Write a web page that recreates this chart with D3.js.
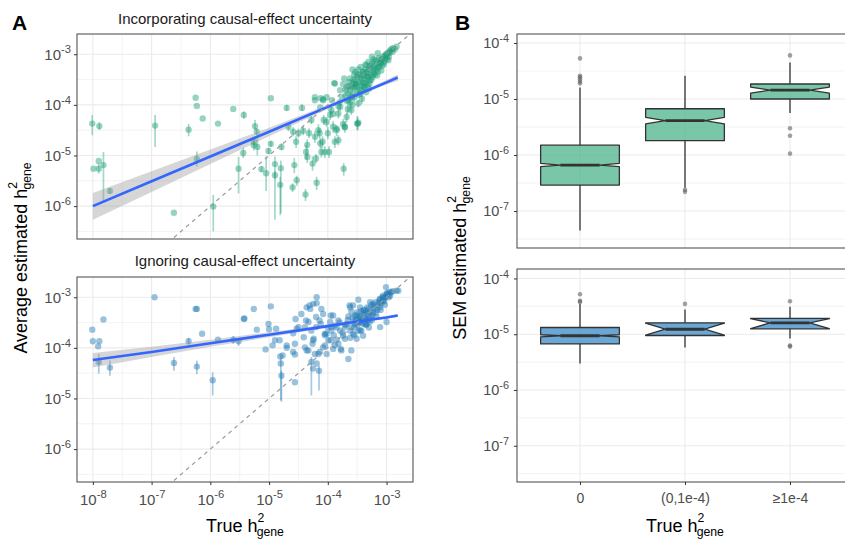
<!DOCTYPE html>
<html>
<head>
<meta charset="utf-8">
<script src="https://cdn.jsdelivr.net/npm/d3@7"></script>
<style>
body { margin: 0; background: #fff; }
svg { font-family: "Liberation Sans", Arial, sans-serif; }
</style>
</head>
<body>
<svg id="chart" width="845" height="542"></svg>
<script>
// ---- data (log10 exponents) ----
var xTicksLeft = [-8, -7, -6, -5, -4, -3];
var xMinorLeft = [-7.5, -6.5, -5.5, -4.5, -3.5];
var yTicksLeft = [-6, -5, -4, -3];
var yMinorLeft = [-6.5, -5.5, -4.5, -3.5];
var yTicksRight = [-7, -6, -5, -4];
var yMinorRight = [-7.5, -6.5, -5.5, -4.5];
var categories = ["0", "(0,1e-4)", "\u22651e-4"];

// [true, estimated, errLow, errHigh]
var topPoints = [
  [-8.01,-4.37,-4.60,-4.20],[-7.89,-4.42,-4.50,-4.34],[-7.99,-5.26],[-7.90,-5.26,-5.36,-5.16],
  [-7.90,-5.11],[-7.82,-5.19,-5.90,-4.93],[-7.71,-5.70,-5.76,-5.64],[-6.94,-4.41,-4.83,-4.20],
  [-6.62,-6.13],[-6.37,-4.49,-4.62,-4.38],[-6.25,-3.86],[-6.23,-4.02],[-6.13,-4.27],
  [-6.23,-5.07,-5.22,-4.92],[-5.95,-6.01,-6.50,-5.78],[-5.87,-4.37],[-5.61,-4.08],
  [-5.43,-4.20,-4.27,-4.13],[-5.52,-5.26,-5.75,-5.03],[-5.44,-4.95,-5.05,-4.85],
  [-5.26,-4.80,-4.90,-4.70],[-5.24,-4.42,-4.50,-4.30],[-5.21,-4.53,-4.60,-4.46],[-4.97,-3.87],
  [-5.26,-4.73,-4.80,-4.66],[-5.20,-4.83,-5.00,-4.66],[-5.13,-5.27,-5.33,-5.21],
  [-5.05,-5.35,-5.70,-5.02],[-5.01,-4.91,-4.97,-4.85],[-4.97,-4.77,-4.83,-4.71],
  [-4.90,-5.17,-6.27,-5.02],[-4.90,-5.39,-5.47,-5.31],[-4.81,-5.58,-6.18,-5.42],
  [-4.80,-5.25,-6.14,-5.10],[-4.79,-4.83,-4.90,-4.76],[-4.70,-4.06,-4.12,-4.00],
  [-4.60,-5.63,-5.72,-5.55],[-4.57,-5.19,-5.35,-5.05],[-4.54,-4.73,-4.85,-4.62],
  [-4.53,-5.49,-5.60,-5.40],[-4.50,-4.56,-4.65,-4.47],[-4.44,-4.06,-4.12,-3.99],
  [-4.38,-5.77,-5.90,-5.66],[-4.37,-4.93,-5.08,-4.80],[-4.35,-4.79,-4.90,-4.68],
  [-4.32,-4.56,-4.66,-4.46],[-4.28,-4.30,-4.38,-4.22],[-4.26,-5.16,-5.30,-5.02],
  [-4.22,-4.63,-4.75,-4.52],[-4.20,-5.06,-5.15,-4.97],[-4.19,-5.54,-5.68,-5.42],
  [-4.16,-4.50,-4.62,-4.38],[-4.14,-4.56,-4.66,-4.46],[-4.09,-4.73,-4.85,-4.62],
  [-4.07,-4.30,-4.40,-4.20],[-4.05,-4.93,-5.05,-4.82],[-4.00,-4.56,-4.68,-4.44],
  [-3.98,-4.93,-5.05,-4.82],[-3.96,-4.20,-4.30,-4.10],[-3.94,-4.10,-4.18,-4.02],
  [-3.91,-4.43,-4.55,-4.32],[-3.88,-4.73,-4.85,-4.62],[-3.85,-4.50,-4.62,-4.40],
  [-3.82,-4.17,-4.27,-4.07],[-3.79,-4.04,-4.12,-3.96],[-3.73,-5.26,-5.40,-5.15],
  [-3.71,-4.43,-4.55,-4.32],[-3.68,-4.24,-4.35,-4.13],[-3.60,-4.10,-4.20,-4.00],
  [-3.50,-4.37,-4.50,-4.22],[-3.48,-3.97,-4.05,-3.90],
  [-4.67,-4.43,-4.52,-4.34],[-4.59,-4.53,-4.62,-4.44],[-4.42,-4.51,-4.60,-4.42],
  [-4.35,-5.03,-5.15,-4.92],[-4.13,-4.76,-4.86,-4.66],[-4.11,-4.93,-5.04,-4.82],
  [-4.02,-4.34,-4.44,-4.24],[-3.85,-4.47],[-3.82,-4.70,-4.80,-4.60],[-3.71,-4.44],
  [-4.22,-3.91],[-4.12,-3.87],[-4.08,-3.91],[-3.93,-3.91],[-3.89,-3.57],[-3.79,-3.71],
  [-3.68,-3.65],[-3.65,-3.91],[-3.60,-3.84],[-3.54,-3.59],
  [-4.22,-3.85],[-4.13,-4.05],[-4.08,-3.89],[-4.02,-3.85],[-3.91,-4.18],[-3.88,-3.58],
  [-3.82,-4.02],[-3.74,-3.59],[-3.74,-4.38,-4.48,-4.28],[-3.68,-3.92],[-3.62,-3.72],
  [-3.60,-3.85],[-3.57,-3.56],[-3.54,-3.66],[-3.48,-4.35],[-3.45,-3.46],[-3.40,-3.56],
  [-3.34,-3.43],[-3.28,-3.23],[-3.23,-3.26],[-3.09,-3.16],[-3.03,-3.03],[-2.94,-2.93],
  [-2.83,-2.85],
  [-3.70,-3.70],[-3.66,-3.78],[-3.64,-3.55],[-3.58,-3.62],[-3.56,-3.50],[-3.52,-3.58],
  [-3.50,-3.45],[-3.50,-3.70],[-3.47,-3.55],[-3.44,-3.40],[-3.42,-3.62],[-3.40,-3.35],
  [-3.38,-3.48],[-3.36,-3.30],[-3.35,-3.58],[-3.33,-3.38],[-3.31,-3.50],[-3.30,-3.28],
  [-3.27,-3.40],[-3.25,-3.18],[-3.22,-3.35],[-3.20,-3.22],[-3.18,-3.12],[-3.17,-3.30],
  [-3.15,-3.20],[-3.13,-3.08],[-3.12,-3.25],[-3.10,-3.12],[-3.07,-3.22],[-3.06,-3.05],
  [-3.04,-3.15],[-3.01,-3.00],[-3.00,-3.10],[-2.98,-2.97],[-2.96,-3.05],[-2.92,-2.90],
  [-2.89,-2.88],[-3.45,-3.72],[-3.38,-3.65],[-3.32,-3.62],[-3.28,-3.52],[-3.24,-3.45],
  [-3.55,-3.85,-3.95,-3.76],[-3.62,-3.95,-4.05,-3.86],[-3.48,-3.80],[-3.42,-3.88,-3.98,-3.79],
  [-3.35,-3.75],[-3.30,-3.68],[-3.66,-4.08,-4.18,-3.98],[-3.58,-4.00],[-3.20,-3.40],
  [-3.15,-3.35],[-3.55,-3.40],[-3.48,-3.30],[-3.36,-3.20],[-3.25,-3.05],[-3.15,-2.98],
  [-3.49,-4.37,-4.50,-4.25],[-3.45,-3.78],[-3.40,-3.35],[-3.38,-3.65],[-3.34,-3.22],
  [-3.62,-3.48],[-3.60,-3.66],[-3.57,-3.78],[-3.53,-3.52],[-3.51,-3.64],[-3.49,-3.40],
  [-3.46,-3.60],[-3.43,-3.50],[-3.41,-3.70],[-3.39,-3.42],[-3.37,-3.56],[-3.34,-3.35],
  [-3.32,-3.45],[-3.29,-3.58],[-3.27,-3.30],[-3.26,-3.50],[-3.23,-3.40],[-3.21,-3.15],
  [-3.19,-3.30],[-3.16,-3.42],[-3.14,-3.25],[-3.11,-3.18],[-3.09,-3.32],[-3.08,-3.10],
  [-3.05,-3.20],[-3.02,-3.08],[-2.99,-3.02],[-2.97,-3.12],[-2.95,-2.97],[-2.90,-2.95],
  [-2.86,-2.90],[-3.31,-3.15],[-3.22,-3.10],[-3.44,-3.25],[-3.53,-3.35],[-3.64,-3.62],
  [-3.70,-3.82],[-3.76,-3.85],[-3.80,-3.95],[-3.72,-3.48],[-3.58,-3.30]
];

var bottomPoints = [
  [-8.01,-3.64],[-8.00,-3.87],[-7.89,-3.87],[-7.91,-3.97],[-7.82,-3.44],
  [-7.90,-4.28,-4.51,-4.12],[-7.71,-4.39,-4.55,-4.25],[-6.95,-3.00],[-6.62,-4.30,-4.45,-4.18],
  [-6.37,-3.87,-3.93,-3.80],[-6.25,-3.23],[-6.23,-3.23],[-6.14,-3.72],[-6.23,-4.37,-4.52,-4.25],
  [-5.96,-4.64,-4.94,-4.48],[-5.87,-3.84],[-5.61,-3.84,-3.92,-3.77],[-5.52,-3.87,-3.96,-3.80],
  [-5.43,-3.43],[-5.42,-3.42],[-5.26,-3.23],[-5.21,-3.64],[-5.01,-3.53],[-4.97,-3.18],
  [-5.00,-3.63],[-5.06,-4.03],[-4.94,-3.95],[-4.88,-3.62],[-4.90,-3.85],[-4.82,-3.85],
  [-4.81,-4.17],[-4.80,-4.31,-5.04,-4.20],[-4.79,-4.55,-5.06,-4.45],[-4.77,-4.15],
  [-4.70,-3.95],[-4.70,-4.00],[-4.59,-4.08],[-4.56,-4.68],[-4.56,-4.13],[-4.56,-3.92],
  [-4.59,-3.71],[-4.55,-3.43],[-4.53,-3.62],[-4.50,-3.59],[-4.45,-3.33],[-4.41,-3.79],
  [-4.39,-3.99],[-4.39,-3.59],[-4.37,-3.46],[-4.36,-3.20],[-4.36,-4.05],[-4.33,-3.49],
  [-4.33,-4.05],[-4.31,-3.16],[-4.30,-3.23],[-4.28,-4.28,-4.94,-4.18],[-4.28,-3.66],
  [-4.26,-3.92],[-4.25,-3.13],[-4.25,-3.85],[-4.25,-4.41],[-4.24,-3.82],[-4.22,-4.12],
  [-4.20,-3.59],[-4.20,-3.39],[-4.19,-3.00],[-4.19,-3.12],[-4.19,-4.31],[-4.16,-4.12],
  [-4.15,-4.45,-4.84,-4.35],[-4.14,-3.46],[-4.14,-4.08],[-4.12,-3.53],[-4.11,-3.23],
  [-4.08,-3.99],[-4.08,-3.33],[-4.05,-3.72],[-4.05,-3.95],[-4.02,-4.12],[-4.02,-3.72],
  [-3.99,-3.85],[-3.96,-3.49],[-3.95,-3.36],[-3.94,-3.66],[-3.94,-3.59],[-3.91,-4.02],
  [-3.91,-3.36],[-3.88,-3.56],[-3.88,-3.95],[-3.85,-3.84],[-3.82,-3.46],[-3.82,-3.92],
  [-3.79,-3.66],[-3.78,-4.02],[-3.77,-4.05],[-3.74,-3.76],[-3.71,-3.59],[-3.71,-3.82],
  [-3.68,-3.53],[-3.65,-4.22],[-3.63,-3.16],[-3.62,-3.20],[-3.62,-3.66],[-3.60,-3.59],
  [-3.60,-4.05],[-3.57,-3.72],[-3.57,-3.16],[-3.54,-3.36],[-3.54,-3.53],[-3.51,-3.82],
  [-3.51,-3.36],[-3.48,-3.05],[-3.48,-3.66],[-3.45,-3.49],[-3.45,-3.20],[-3.43,-3.66],
  [-3.43,-3.39],[-3.40,-3.26],[-3.40,-3.76],[-3.37,-3.43],[-3.37,-3.53],[-3.34,-3.53],
  [-3.34,-3.33],[-3.31,-3.23],[-3.29,-3.49],[-3.23,-3.13],[-3.23,-3.30],[-3.17,-3.39],
  [-3.11,-3.03],[-3.11,-3.20],[-3.11,-3.59],[-3.06,-2.97],[-3.06,-3.07],[-3.01,-2.80],
  [-3.00,-3.49],[-3.00,-2.93],[-2.94,-2.97],[-2.92,-2.90],[-2.83,-2.87],[-2.80,-2.87],
  [-3.70,-3.55],[-3.66,-3.45],[-3.58,-3.40],[-3.55,-3.60],[-3.52,-3.45],[-3.50,-3.30],
  [-3.47,-3.50],[-3.44,-3.28],[-3.42,-3.45],[-3.38,-3.25],[-3.36,-3.42],[-3.33,-3.20],
  [-3.31,-3.38],[-3.28,-3.28],[-3.26,-3.15],[-3.24,-3.35],[-3.21,-3.22],[-3.19,-3.10],
  [-3.16,-3.25],[-3.14,-3.15],[-3.12,-3.05],[-3.09,-3.12],[-3.07,-3.00],[-3.04,-3.08],
  [-3.02,-3.00],[-2.98,-2.95],[-2.95,-2.90],[-2.90,-2.88],[-3.35,-3.55],[-3.30,-3.60],
  [-3.25,-3.45],[-3.45,-3.65],[-3.55,-3.75],[-3.62,-3.80],[-3.75,-3.70],[-3.80,-3.50],
  [-3.85,-3.60],[-3.90,-3.75],[-3.95,-3.85],[-4.00,-3.60],[-4.05,-3.75],
  [-3.65,-3.38],[-3.60,-3.28],[-3.56,-3.48],[-3.50,-3.55],[-3.46,-3.38],[-3.41,-3.52],
  [-3.39,-3.32],[-3.35,-3.28],[-3.32,-3.45],[-3.27,-3.38],[-3.22,-3.18],[-3.18,-3.30],
  [-3.13,-3.10],[-3.10,-3.25],[-3.05,-3.02],[-3.03,-3.15],[-2.99,-2.92],[-2.96,-3.00],
  [-3.48,-3.42],[-3.28,-3.10]
];

// linear fit with its confidence band: [x, fit, low, high]
var topFit = [
  [-8, -6.00, -6.27, -5.74], [-7, -5.51, -5.72, -5.31], [-6, -5.02, -5.17, -4.88],
  [-5, -4.53, -4.62, -4.45], [-4, -4.04, -4.08, -4.00], [-3.5, -3.80, -3.83, -3.77],
  [-3, -3.555, -3.60, -3.51], [-2.81, -3.46, -3.53, -3.40]
];
var bottomFit = [
  [-8, -4.24, -4.39, -4.10], [-7, -4.08, -4.18, -3.98], [-6, -3.91, -3.98, -3.84],
  [-5, -3.74, -3.79, -3.69], [-4, -3.57, -3.60, -3.54], [-3.5, -3.48, -3.50, -3.46],
  [-3, -3.40, -3.42, -3.37], [-2.81, -3.36, -3.39, -3.33]
];

// [whiskerLow, q1, notchLow, median, notchHigh, q3, whiskerHigh]
var greenBoxes = [
  [4.5e-8, 2.9e-7, 6.2e-7, 6.6e-7, 7.1e-7, 1.5e-6, 1.6e-5],
  [2.6e-7, 1.8e-6, 3.6e-6, 4.1e-6, 4.7e-6, 6.7e-6, 2.6e-5],
  [5.6e-6, 1.0e-5, 1.27e-5, 1.44e-5, 1.63e-5, 1.85e-5, 4.5e-5]
];
var greenOutliers = [
  [0, 5.3e-5], [0, 2.6e-5], [0, 2.45e-5], [0, 2.25e-5], [0, 2.05e-5], [0, 1.9e-5],
  [1, 2.4e-7], [1, 2.2e-7],
  [2, 6.0e-5], [2, 3.0e-6], [2, 2.2e-6], [2, 1.06e-6]
];
var blueBoxes = [
  [3.0e-6, 6.7e-6, 9.0e-6, 9.4e-6, 9.8e-6, 1.32e-5, 3.5e-5],
  [5.8e-6, 9.5e-6, 9.6e-6, 1.23e-5, 1.58e-5, 1.6e-5, 2.78e-5],
  [8.4e-6, 1.25e-5, 1.26e-5, 1.6e-5, 1.9e-5, 1.92e-5, 3.1e-5]
];
var blueOutliers = [
  [0, 5.2e-5], [0, 3.96e-5], [0, 3.8e-5],
  [1, 3.5e-5],
  [2, 3.9e-5], [2, 6.3e-6], [2, 6.0e-6]
];

// ---- chart ----
var svg = d3.select("#chart");
var tickCol = "#4d4d4d";

function e10(v) { return Math.pow(10, v); }

var xL = d3.scaleLog().domain([e10(-8.27), e10(-2.55)]).range([77, 413]);
var yLTop = d3.scaleLog().domain([e10(-6.65), e10(-2.6)]).range([239, 34]);
var yLBot = d3.scaleLog().domain([e10(-6.65), e10(-2.6)]).range([482, 277]);
var xR = d3.scalePoint().domain(categories).range([517, 853]).padding(0.6);
var yRTop = d3.scaleLog().domain([e10(-7.66), e10(-3.84)]).range([248, 34]);
var yRBot = d3.scaleLog().domain([e10(-7.65), e10(-3.83)]).range([482, 269]);

var clipCount = 0;
function makePanel(x0, x1, y0, y1) {
  var id = "clip" + (clipCount++);
  svg.append("clipPath").attr("id", id)
    .append("rect").attr("x", x0).attr("y", y0).attr("width", x1 - x0).attr("height", y1 - y0);
  var g = svg.append("g");
  g.append("rect").attr("x", x0).attr("y", y0).attr("width", x1 - x0).attr("height", y1 - y0)
    .attr("fill", "#fff");
  var inner = g.append("g").attr("clip-path", "url(#" + id + ")");
  return { g: g, inner: inner, x0: x0, x1: x1, y0: y0, y1: y1 };
}

function border(p) {
  p.g.append("rect").attr("x", p.x0).attr("y", p.y0).attr("width", p.x1 - p.x0).attr("height", p.y1 - p.y0)
    .attr("fill", "none").attr("stroke", "#555").attr("stroke-width", 1.1);
}

function hGrid(p, y, vals, w) {
  p.inner.selectAll(null).data(vals).enter().append("line")
    .attr("x1", p.x0).attr("x2", p.x1)
    .attr("y1", function (d) { return y(e10(d)); }).attr("y2", function (d) { return y(e10(d)); })
    .attr("stroke", "#ebebeb").attr("stroke-width", w);
}
function vGrid(p, xs, w) {
  p.inner.selectAll(null).data(xs).enter().append("line")
    .attr("y1", p.y0).attr("y2", p.y1)
    .attr("x1", function (d) { return d; }).attr("x2", function (d) { return d; })
    .attr("stroke", "#ebebeb").attr("stroke-width", w);
}

// "10" with a raised exponent
function powLabel(text, e) {
  text.text(null);
  text.append("tspan").text("10");
  text.append("tspan").attr("dy", "-0.55em").attr("font-size", "0.75em").text(e);
}

function yAxis(x0, y, ticks, fs, pad) {
  var a = svg.append("g").attr("transform", "translate(" + x0 + ",0)")
    .call(d3.axisLeft(y).tickValues(ticks.map(e10)).tickSize(3).tickPadding(pad));
  a.attr("font-family", null).attr("font-size", fs);
  a.select(".domain").remove();
  a.selectAll(".tick line").attr("stroke", "#333");
  a.selectAll(".tick text").attr("fill", tickCol)
    .each(function (d) { powLabel(d3.select(this), "-" + Math.round(-Math.log10(d))); });
}

function hTitle(text, prefix, fs) {
  var small = fs * 0.68;
  text.append("tspan").text(prefix + "h");
  text.append("tspan").attr("font-size", small).attr("dy", -fs * 0.55).text("2");
  text.append("tspan").attr("font-size", small).attr("dx", -small * 0.62).attr("dy", fs * 0.78).text("gene");
}

// ---- panel A ----
function drawScatter(y, points, fit, color, title, titleY, showX) {
  var p = makePanel(77, 413, y.range()[1], y.range()[0]);
  hGrid(p, y, yMinorLeft, 0.6);
  vGrid(p, xMinorLeft.map(function (d) { return xL(e10(d)); }), 0.6);
  hGrid(p, y, yTicksLeft, 1.1);
  vGrid(p, xTicksLeft.map(function (d) { return xL(e10(d)); }), 1.1);

  var c = p.inner;
  c.selectAll(null).data(points.filter(function (d) { return d.length > 2; })).enter().append("line")
    .attr("x1", function (d) { return xL(e10(d[0])); })
    .attr("x2", function (d) { return xL(e10(d[0])); })
    .attr("y1", function (d) { return y(e10(d[2])); })
    .attr("y2", function (d) { return y(e10(d[3])); })
    .attr("stroke", color).attr("stroke-opacity", 0.4).attr("stroke-width", 1.7);
  c.selectAll(null).data(points).enter().append("circle")
    .attr("cx", function (d) { return xL(e10(d[0])); })
    .attr("cy", function (d) { return y(e10(d[1])); })
    .attr("r", 3.2).attr("fill", color).attr("fill-opacity", 0.45);

  var band = d3.area()
    .x(function (d) { return xL(e10(d[0])); })
    .y0(function (d) { return y(e10(d[2])); })
    .y1(function (d) { return y(e10(d[3])); });
  c.append("path").datum(fit).attr("d", band).attr("fill", "#999").attr("fill-opacity", 0.4);
  var line = d3.line()
    .x(function (d) { return xL(e10(d[0])); })
    .y(function (d) { return y(e10(d[1])); });
  c.append("path").datum(fit).attr("d", line).attr("fill", "none")
    .attr("stroke", "#3366ff").attr("stroke-width", 2.6);

  var dom = xL.domain();
  c.append("line")
    .attr("x1", xL(dom[0])).attr("y1", y(dom[0])).attr("x2", xL(dom[1])).attr("y2", y(dom[1]))
    .attr("stroke", "#999").attr("stroke-width", 1.2).attr("stroke-dasharray", "4,4");
  border(p);

  yAxis(77, y, yTicksLeft, 15, 3);

  svg.append("text").attr("x", 245).attr("y", titleY).attr("text-anchor", "middle")
    .attr("font-size", 15).attr("fill", "#1a1a1a").text(title);

  if (showX) {
    var a = svg.append("g").attr("transform", "translate(0," + y.range()[0] + ")")
      .call(d3.axisBottom(xL).tickValues(xTicksLeft.map(e10)).tickSize(3).tickPadding(9));
    a.attr("font-family", null).attr("font-size", 15);
    a.select(".domain").remove();
    a.selectAll(".tick line").attr("stroke", "#333");
    a.selectAll(".tick text").attr("fill", tickCol)
      .each(function (d) { powLabel(d3.select(this), "-" + Math.round(-Math.log10(d))); });
  }
}

drawScatter(yLTop, topPoints, topFit, "#1b9e77", "Incorporating causal-effect uncertainty", 24, false);
drawScatter(yLBot, bottomPoints, bottomFit, "#1f78b4", "Ignoring causal-effect uncertainty", 266, true);

// ---- panel B ----
function drawBoxes(y, boxes, outliers, fill, showX) {
  var p = makePanel(517, 853, y.range()[1], y.range()[0]);
  hGrid(p, y, yMinorRight, 0.6);
  hGrid(p, y, yTicksRight, 1.1);
  vGrid(p, categories.map(function (d) { return xR(d); }), 1.1);

  var c = p.inner;
  var hw = xR.step() * 0.375, nw = hw / 2;

  c.selectAll(null).data(outliers).enter().append("circle")
    .attr("cx", function (d) { return xR(categories[d[0]]); })
    .attr("cy", function (d) { return y(d[1]); })
    .attr("r", 2.3).attr("fill", "#555").attr("fill-opacity", 0.55);

  boxes.forEach(function (b, i) {
    var cx = xR(categories[i]);
    c.append("line").attr("x1", cx).attr("x2", cx).attr("y1", y(b[0])).attr("y2", y(b[1]))
      .attr("stroke", "#333").attr("stroke-width", 1.3);
    c.append("line").attr("x1", cx).attr("x2", cx).attr("y1", y(b[5])).attr("y2", y(b[6]))
      .attr("stroke", "#333").attr("stroke-width", 1.3);
    var pts = [
      [cx - hw, y(b[5])], [cx - hw, y(b[4])], [cx - nw, y(b[3])], [cx - hw, y(b[2])],
      [cx - hw, y(b[1])], [cx + hw, y(b[1])], [cx + hw, y(b[2])], [cx + nw, y(b[3])],
      [cx + hw, y(b[4])], [cx + hw, y(b[5])]
    ];
    c.append("path").attr("d", d3.line()(pts) + "Z")
      .attr("fill", fill).attr("fill-opacity", 0.75)
      .attr("stroke", "#333").attr("stroke-width", 1.3).attr("stroke-linejoin", "round");
    c.append("line").attr("x1", cx - nw).attr("x2", cx + nw).attr("y1", y(b[3])).attr("y2", y(b[3]))
      .attr("stroke", "#333").attr("stroke-width", 2.8);
  });
  border(p);

  yAxis(517, y, yTicksRight, 14.5, 5);

  if (showX) {
    var a = svg.append("g").attr("transform", "translate(0," + y.range()[0] + ")")
      .call(d3.axisBottom(xR).tickSize(3).tickPadding(8));
    a.attr("font-family", null).attr("font-size", 14);
    a.select(".domain").remove();
    a.selectAll(".tick line").attr("stroke", "#333");
    a.selectAll(".tick text").attr("fill", tickCol);
  }
}

drawBoxes(yRTop, greenBoxes, greenOutliers, "#4cb38b", false);
drawBoxes(yRBot, blueBoxes, blueOutliers, "#3a8ac6", true);

// ---- titles ----
svg.append("text").attr("x", 12).attr("y", 30).attr("font-size", 21).attr("font-weight", "bold").text("A");
svg.append("text").attr("x", 455).attr("y", 30).attr("font-size", 21).attr("font-weight", "bold").text("B");

hTitle(svg.append("text").attr("transform", "translate(27,258) rotate(-90)")
  .attr("text-anchor", "middle").attr("font-size", 18), "Average estimated ", 18);
hTitle(svg.append("text").attr("transform", "translate(466,258) rotate(-90)")
  .attr("text-anchor", "middle").attr("font-size", 18), "SEM estimated ", 18);
hTitle(svg.append("text").attr("x", 245).attr("y", 532)
  .attr("text-anchor", "middle").attr("font-size", 18), "True ", 18);
hTitle(svg.append("text").attr("x", 685).attr("y", 532)
  .attr("text-anchor", "middle").attr("font-size", 18), "True ", 18);
</script>
</body>
</html>
